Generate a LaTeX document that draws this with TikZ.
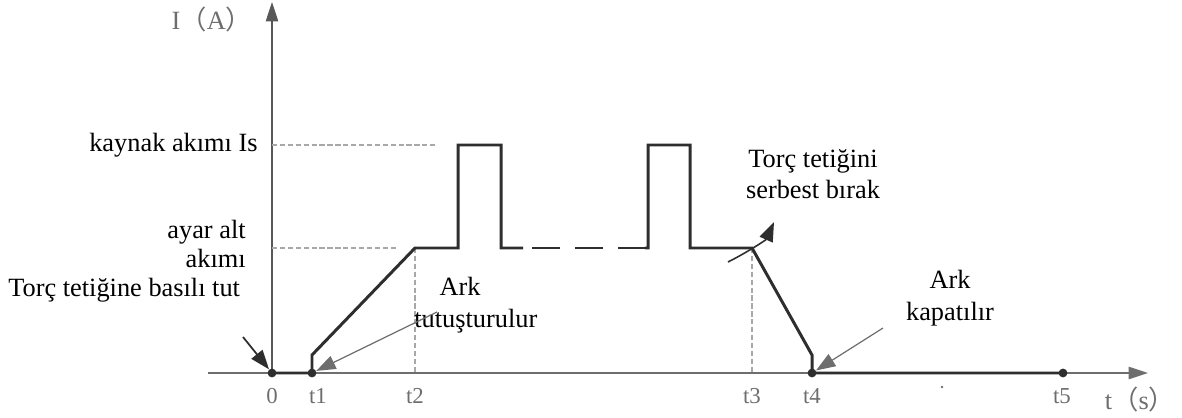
\documentclass[tikz,border=0pt]{standalone}
\usepackage{fontspec}
\setmainfont{Liberation Serif}
\newfontfamily\cjk{Noto Sans CJK SC}
\usetikzlibrary{arrows.meta}
\definecolor{axisgray}{HTML}{6E6E6E}
\definecolor{wave}{HTML}{2E2E2E}

\begin{document}
\begin{tikzpicture}[x=0.02cm, y=-0.02cm,
    lbl/.style={font=\fontsize{15}{16}\selectfont, inner sep=0pt},
    tick/.style={font=\fontsize{13}{14}\selectfont, text=axisgray, inner sep=0pt},
    guide/.style={axisgray!60, line width=0.8pt, dash pattern=on 3pt off 1.5pt},
    pointer/.style={axisgray, line width=0.7pt, -{Triangle[length=11pt,width=8pt]}},
    dot/.style={circle, fill=wave, inner sep=0pt, minimum size=5pt}]
    \useasboundingbox (0,0) rectangle (1182,418);
    % axes
    \coordinate (xs) at (208,373);
    \coordinate (xe) at (1148,373);
    \coordinate (yb) at (272,373);
    \coordinate (ye) at (272,2);
    \draw[axisgray, line width=0.8pt, -{Triangle[length=11pt,width=7pt]}] (xs) -- (xe);
    \draw[wave!80, line width=0.8pt, -{Triangle[length=11pt,width=7pt]}] (yb) -- (ye);
    \node[tick, font=\fontsize{15}{15}\selectfont] (ya) at (212,19) {I{\cjk （}A{\cjk ）}};
    \node[tick, font=\fontsize{15}{15}\selectfont] (xa) at (1140,399) {t{\cjk （}s{\cjk ）}};
    % levels
    \coordinate (is0) at (272,145);
    \coordinate (is1) at (438,145);
    \coordinate (ib0) at (272,248);
    \coordinate (ib1) at (396,248);
    \draw[guide] (is0) -- (is1);
    \draw[guide] (ib0) -- (ib1);
    % time points
    \node[dot] (o) at (272,373) {};
    \node[dot] (t1) at (312,373) {};
    \node[dot] (t4) at (812,373) {};
    \node[dot] (t5) at (1063,373) {};
    \coordinate (t2) at (415,373);
    \coordinate (t3) at (752,373);
    \coordinate (r2) at (415,248);
    \coordinate (f3) at (752,248);
    \draw[guide] (r2) -- (t2);
    \draw[guide] (f3) -- (t3);
    % current waveform
    \draw[wave, line width=1.7pt, line join=miter]
      (o.center) -- (t1.center) -- (312,355) -- (r2) -- (458,248) -- (458,145)
      -- (501,145) -- (501,248) -- (523,248);
    \draw[wave, line width=1.7pt, dash pattern=on 15.9pt off 8.5pt]
      (532,248) -- (646,248);
    \draw[wave, line width=1.7pt, line join=miter]
      (645,248) -- (648,248) -- (648,145) -- (690,145) -- (690,248) -- (f3)
      -- (812,355) -- (t4.center) -- (t5.center);
    % tick labels
    \node[tick] (l0) at (272,396) {0};
    \node[tick] (l1) at (318,396) {t1};
    \node[tick] (l2) at (415,396) {t2};
    \node[tick] (l3) at (752,396) {t3};
    \node[tick] (l4) at (812,396) {t4};
    \node[tick] (l5) at (1062,396) {t5};
    \fill[axisgray] (942,387) circle (0.8pt);
    % annotations
    \node[lbl, anchor=east] (weld) at (258,145) {kaynak akımı Is};
    \node[lbl, anchor=east, align=right] (base) at (246,244) {ayar alt\\akımı};
    \node[lbl, anchor=west] (press) at (8,290) {Torç tetiğine basılı tut};
    \node[lbl, align=center] (ignite) at (460,305) {Ark\\[2pt]\hspace{1.2em}tutuşturulur};
    \node[lbl, align=center] (release) at (813,174) {Torç tetiğini\\[2pt]serbest bırak};
    \node[lbl, align=center] (off) at (950,298) {Ark\\[2pt]kapatılır};
    \coordinate (p0) at (243,337);
    \coordinate (p1) at (437,312);
    \coordinate (p4) at (883,328);
    \coordinate (c0) at (728,262);
    \coordinate (c1) at (774,222);
    \draw[pointer, wave, line width=1pt] (p0) -- (o);
    \draw[pointer] (p1) -- (t1);
    \draw[pointer] (p4) -- (t4);
    \draw[pointer, wave, line width=0.9pt] (c0) .. controls (746,253) and (766,240) .. (c1);
\end{tikzpicture}
\end{document}
